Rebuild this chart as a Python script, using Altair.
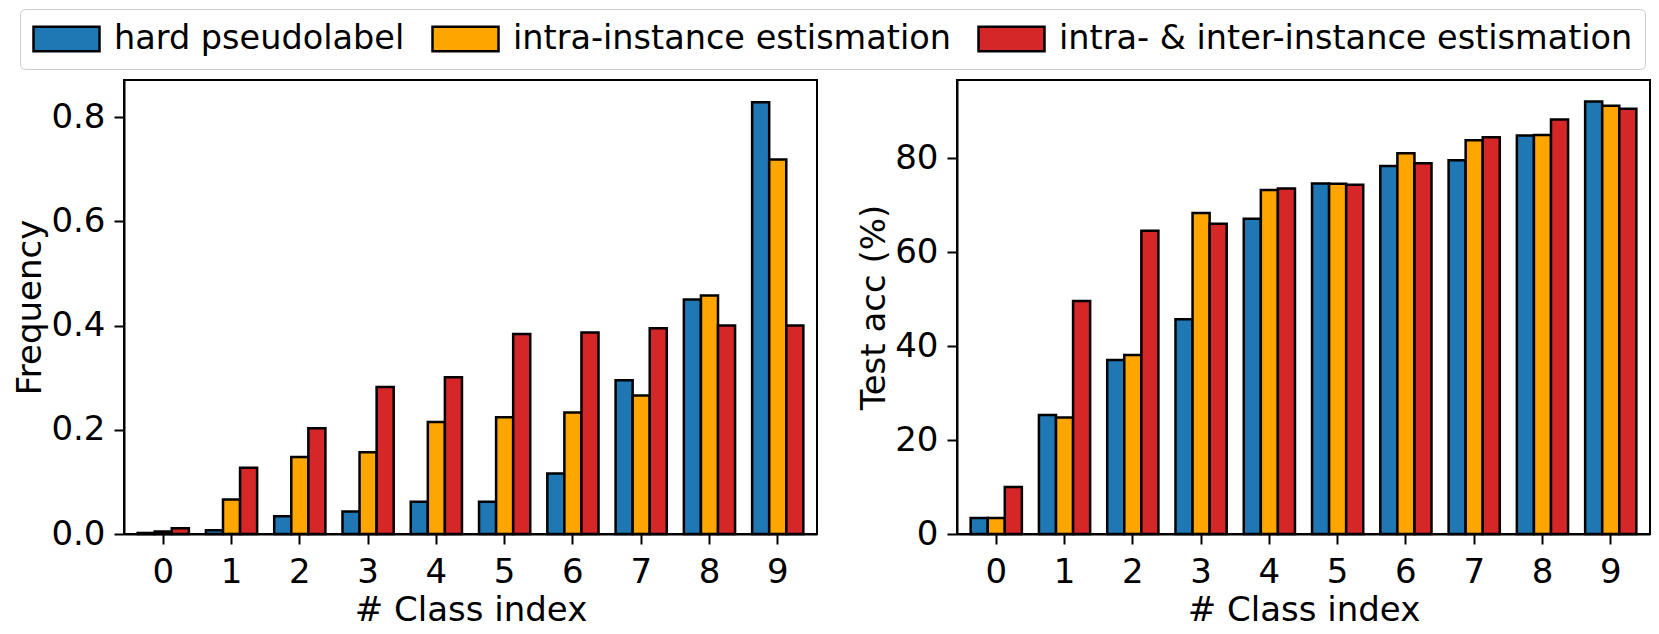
import altair as alt
import pandas as pd

classes = [str(c) for c in range(10)]
series = ["hard pseudolabel", "intra-instance estismation", "intra- & inter-instance estismation"]
colors = ["#1f77b4", "#ffa500", "#d62728"]

freq_hard = [0.002, 0.007, 0.034, 0.043, 0.062, 0.062, 0.116, 0.295, 0.450, 0.829]
freq_intra = [0.005, 0.066, 0.148, 0.157, 0.215, 0.224, 0.233, 0.266, 0.458, 0.719]
freq_inter = [0.011, 0.127, 0.203, 0.282, 0.301, 0.384, 0.387, 0.395, 0.400, 0.400]

acc_hard = [3.4, 25.3, 37.0, 45.7, 67.1, 74.6, 78.3, 79.5, 84.8, 92.0]
acc_intra = [3.4, 24.8, 38.1, 68.3, 73.2, 74.5, 81.0, 83.8, 84.9, 91.1]
acc_inter = [10.0, 49.6, 64.5, 66.0, 73.5, 74.3, 78.9, 84.4, 88.2, 90.5]

freq_ticks = [0.0, 0.2, 0.4, 0.6, 0.8]
acc_ticks = [0, 20, 40, 60, 80]

FONT = "DejaVu Sans"
FS = 34


def long_table(vals_list):
    rows = []
    for s, vals in zip(series, vals_list):
        for c, v in zip(classes, vals):
            rows.append({"cls": c, "series": s, "value": v})
    return pd.DataFrame(rows)


legend = alt.Legend(
    orient="none", legendX=-104, legendY=-71, direction="horizontal", title=None,
    columns=3, symbolType="M-1,-0.37H1V0.37H-1Z", symbolSize=4356,
    symbolStrokeColor="black", symbolStrokeWidth=2.5, symbolOpacity=1,
    labelFontSize=33.5, labelFont=FONT, labelColor="black", labelLimit=1000,
    labelOffset=13, columnPadding=26, padding=12, clipHeight=36,
    strokeColor="#cccccc", cornerRadius=5, fillColor="white",
)

color = alt.Color("series:N", scale=alt.Scale(domain=series, range=colors),
                  sort=series, legend=legend)


def panel(df, ytitle, ydomain, yticks, fmt):
    return alt.Chart(df).mark_bar(stroke="black", strokeWidth=2.5, opacity=1).encode(
        x=alt.X("cls:O", title="# Class index", sort=classes,
                scale=alt.Scale(paddingInner=0.25, paddingOuter=0.2),
                axis=alt.Axis(labelAngle=0)),
        xOffset=alt.XOffset("series:N", sort=series,
                            scale=alt.Scale(domain=series, paddingInner=0, paddingOuter=0)),
        y=alt.Y("value:Q", title=ytitle,
                scale=alt.Scale(domain=ydomain, nice=False, zero=True),
                axis=alt.Axis(values=yticks, format=fmt, grid=False)),
        color=color,
    ).properties(width=693, height=454)


left = panel(long_table([freq_hard, freq_intra, freq_inter]), "Frequency", [0, 0.8715], freq_ticks, ".1f")
right = panel(long_table([acc_hard, acc_intra, acc_inter]), "Test acc (%)", [0, 96.6], acc_ticks, "d")

chart = alt.hconcat(left, right, spacing=38).properties(
    padding={"left": 4, "top": 0, "right": 0, "bottom": 0}
).configure(font=FONT).configure_axis(
    domainColor="black", domainWidth=2, tickColor="black", tickWidth=2, tickSize=10,
    labelFontSize=FS, labelFont=FONT, labelColor="black",
    titleFontSize=FS, titleFont=FONT, titleColor="black", titleFontWeight="normal",
).configure_axisX(labelPadding=11, titlePadding=4).configure_axisY(
    labelPadding=9, titlePadding=3
).configure_view(stroke="black", strokeWidth=2)

chart.save("out.html", embed_options={"renderer": "svg", "actions": False})
